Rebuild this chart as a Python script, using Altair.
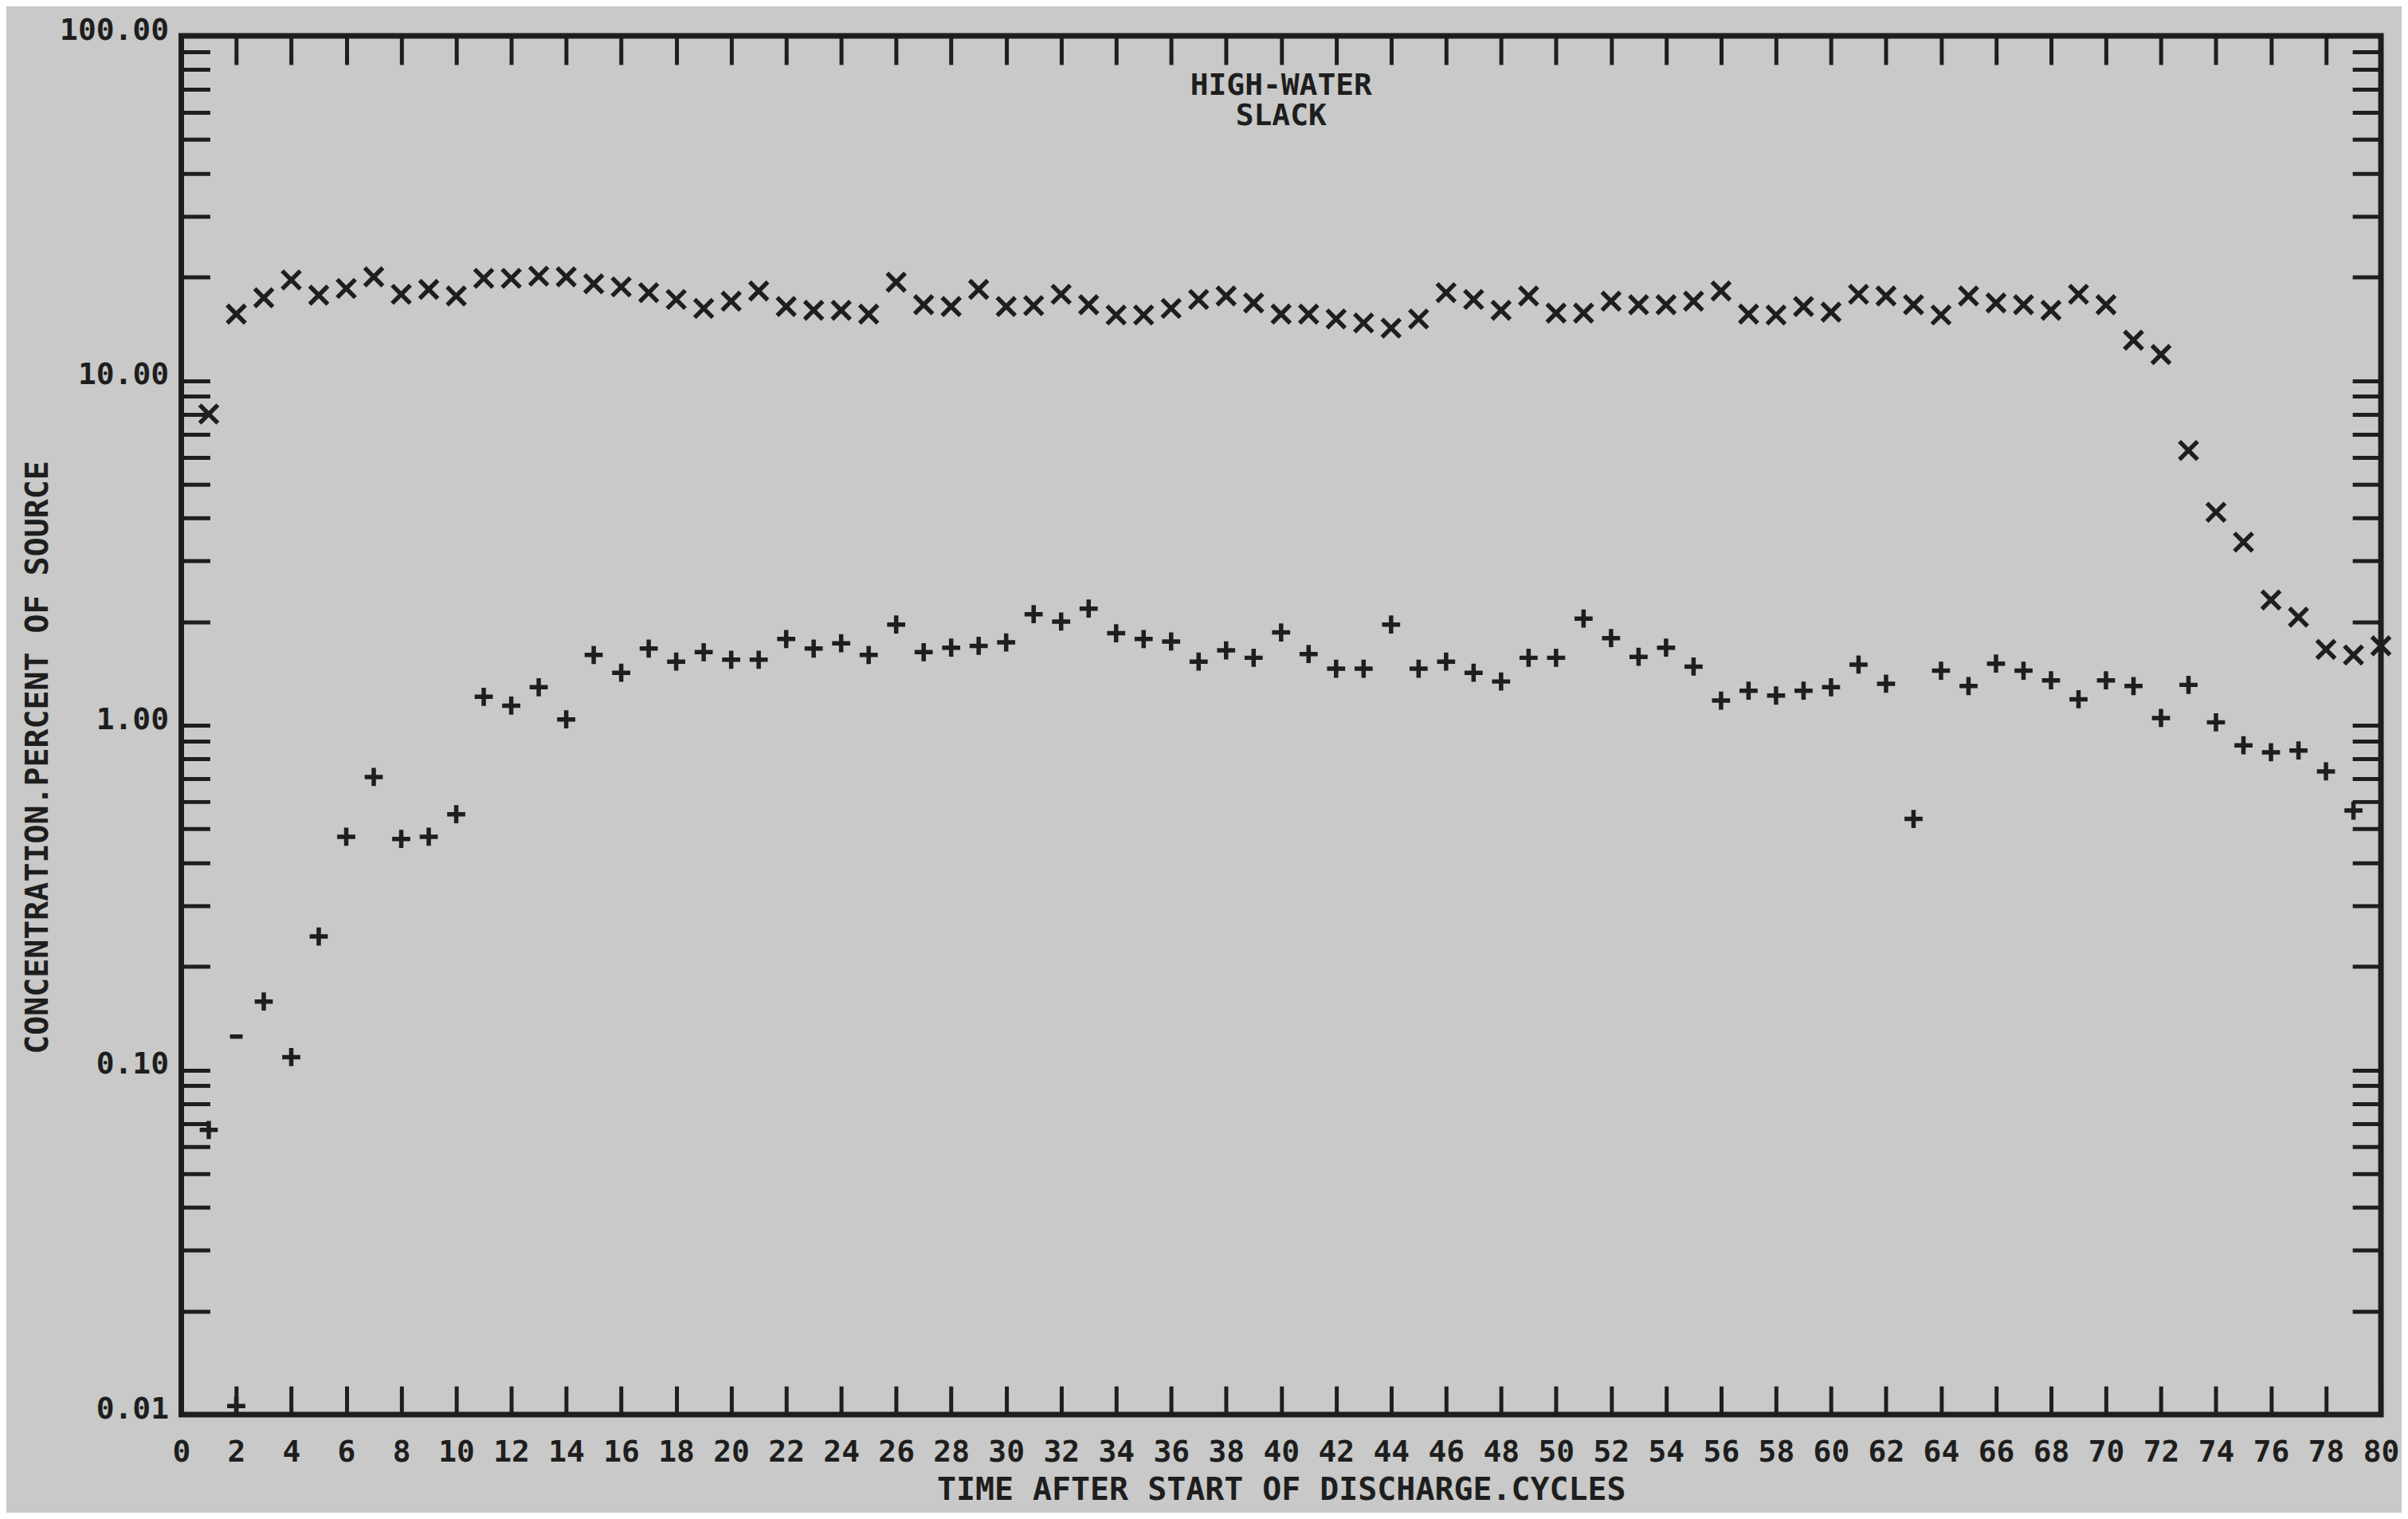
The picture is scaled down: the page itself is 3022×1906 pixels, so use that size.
import altair as alt
import pandas as pd

# ---- data ----
cycles_x = list(range(1, 81))
conc_x = [8.0, 15.6, 17.4, 19.6, 17.7, 18.5, 20.0, 17.8, 18.4, 17.6,
          19.8, 19.8, 20.1, 20.0, 19.1, 18.7, 18.0, 17.2, 16.2, 17.0,
          18.2, 16.4, 16.0, 16.0, 15.6, 19.3, 16.6, 16.4, 18.4, 16.4,
          16.5, 17.8, 16.6, 15.5, 15.5, 16.2, 17.2, 17.6, 16.8, 15.6,
          15.6, 15.1, 14.7, 14.2, 15.1, 18.0, 17.2, 16.0, 17.6, 15.7,
          15.7, 17.0, 16.6, 16.6, 17.0, 18.2, 15.6, 15.5, 16.4, 15.8,
          17.8, 17.6, 16.6, 15.5, 17.6, 16.8, 16.6, 16.0, 17.8, 16.6,
          13.1, 11.9, 6.27, 4.15, 3.4, 2.31, 2.06, 1.66, 1.60, 1.70]

cycles_plus = list(range(1, 80))
conc_plus = [0.067, 0.0106, 0.158, 0.109, 0.244, 0.475, 0.708, 0.468, 0.475, 0.552,
             1.21, 1.14, 1.29, 1.04, 1.60, 1.42, 1.67, 1.53, 1.63, 1.55,
             1.55, 1.78, 1.67, 1.73, 1.60, 1.96, 1.63, 1.68, 1.70, 1.74,
             2.10, 2.00, 2.18, 1.85, 1.78, 1.75, 1.53, 1.65, 1.57, 1.86,
             1.61, 1.46, 1.46, 1.96, 1.46, 1.53, 1.42, 1.34, 1.57, 1.57,
             2.04, 1.79, 1.58, 1.68, 1.48, 1.18, 1.26, 1.22, 1.26, 1.29,
             1.50, 1.32, 0.535, 1.44, 1.30, 1.51, 1.44, 1.35, 1.19, 1.35,
             1.30, 1.05, 1.31, 1.02, 0.875, 0.835, 0.845, 0.735, 0.566]

cycles_dash = [2]
conc_dash = [0.125]

x_tick_values = list(range(0, 81, 2))
top_tick_values = list(range(2, 80, 2))
y_decades = [0.01, 0.1, 1.0, 10.0, 100.0]
y_decade_labels = ["0.01", "0.10", "1.00", "10.00", "100.00"]
y_tick_values = sorted({round(m * d, 6) for d in [0.01, 0.1, 1, 10] for m in range(1, 10)} | {100.0})

annotation_lines = ["HIGH-WATER", "SLACK"]
annotation_cycle = 40
annotation_conc = 100

x_title = "TIME AFTER START OF DISCHARGE.CYCLES"
y_title = "CONCENTRATION.PERCENT OF SOURCE"

# ---- styling ----
INK = "#1e1e1e"
BG = "#c8c9c8"
FONT = "DejaVu Sans Mono"
X_PATH = "M-1,-1L1,1M-1,1L1,-1"
PLUS_PATH = "M-1,0L1,0M0,-1L0,1"
DASH_PATH = "M-0.7,0L0.7,0"
TICK = 36

pts = pd.concat([
    pd.DataFrame({"cycle": cycles_x, "conc": conc_x, "series": "x"}),
    pd.DataFrame({"cycle": cycles_plus, "conc": conc_plus, "series": "plus"}),
    pd.DataFrame({"cycle": cycles_dash, "conc": conc_dash, "series": "dash"}),
], ignore_index=True)

ann = pd.DataFrame({"cycle": [annotation_cycle], "conc": [annotation_conc],
                    "text": ["\n".join(annotation_lines)]})

x_scale = alt.Scale(domain=[0, 80], nice=False, zero=False)
y_scale = alt.Scale(type="log", domain=[0.01, 100], nice=False)

label_expr = "''"
for v, lab in reversed(list(zip(y_decades, y_decade_labels))):
    label_expr = f"datum.value == {v} ? '{lab}' : ({label_expr})"

bottom_axis = alt.Axis(
    orient="bottom", values=x_tick_values, offset=-TICK, tickSize=TICK, tickWidth=5,
    tickColor=INK, domain=False, grid=False,
    labelFont=FONT, labelFontSize=38, labelFontWeight="bold", labelColor=INK,
    labelPadding=29, labelOverlap=False, labelFlush=False, labelAngle=0,
    title=x_title, titleFont=FONT, titleFontSize=40, titleFontWeight="bold",
    titleColor=INK, titleY=131, titleBaseline="middle",
)
left_axis = alt.Axis(
    orient="left", values=y_tick_values, offset=-TICK, tickSize=TICK, tickWidth=5,
    tickColor=INK, domain=False, grid=False,
    labelExpr=label_expr, labelFont=FONT, labelFontSize=38, labelFontWeight="bold",
    labelColor=INK, labelPadding=16, labelOverlap=False, labelFlush=False,
    labelBaseline="middle", labelOffset=-7,
    title=y_title, titleFont=FONT, titleFontSize=40, titleFontWeight="bold",
    titleColor=INK, titleX=-216, titleY=907, titleAngle=270,
    titleAlign="center", titleBaseline="middle",
)
top_axis = alt.Axis(
    orient="top", values=top_tick_values, offset=-TICK, tickSize=TICK, tickWidth=5,
    tickColor=INK, domain=False, grid=False, labels=False, title=None,
)
right_axis = alt.Axis(
    orient="right", values=y_tick_values, offset=-TICK, tickSize=TICK, tickWidth=5,
    tickColor=INK, domain=False, grid=False, labels=False, title=None,
)

points = alt.Chart(pts).mark_point(
    filled=False, strokeWidth=5.5, size=520, color=INK, opacity=1
).encode(
    x=alt.X("cycle:Q", scale=x_scale, axis=bottom_axis),
    y=alt.Y("conc:Q", scale=y_scale, axis=left_axis),
    shape=alt.Shape("series:N",
                    scale=alt.Scale(domain=["x", "plus", "dash"],
                                    range=[X_PATH, PLUS_PATH, DASH_PATH]),
                    legend=None),
)

label = alt.Chart(ann).mark_text(
    font=FONT, fontSize=38, fontWeight="bold", color=INK, lineBreak="\n",
    lineHeight=38, baseline="top", align="center", dy=44,
).encode(
    x=alt.X("cycle:Q", scale=x_scale, axis=top_axis),
    y=alt.Y("conc:Q", scale=y_scale, axis=right_axis),
    text="text:N",
)

chart = alt.layer(points, label).resolve_axis(
    x="independent", y="independent"
).properties(
    width=2767, height=1734,
    autosize=alt.AutoSizeParams(type="none"),
    padding={"left": 220, "top": 35, "right": 26, "bottom": 121},
    background=BG,
).configure_view(stroke=INK, strokeWidth=7)

chart.save("out.html", embed_options={"renderer": "svg", "actions": False})
